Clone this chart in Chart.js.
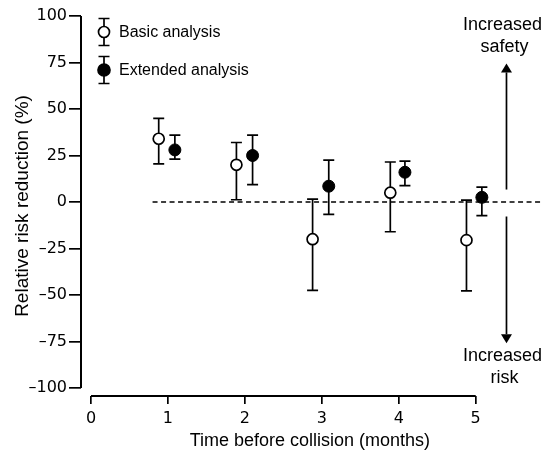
<!DOCTYPE html>
<html><head><meta charset="utf-8">
<script src="https://cdn.jsdelivr.net/npm/chart.js@4/dist/chart.umd.min.js"></script>
<style>html,body{margin:0;padding:0;background:#fff}canvas{display:block}</style>
</head><body>
<canvas id="c" width="546" height="453"></canvas>
<script>
// ---- data ----
const basicX  = [0.88, 1.89, 2.88, 3.89, 4.88];
const basicY  = [34, 20, -20, 5, -20.5];
const basicHi = [45, 32, 1.5, 21.5, 1];
const basicLo = [20.5, 1.2, -47.5, -16, -47.8];

const extX  = [1.09, 2.10, 3.09, 4.08, 5.08];
const extY  = [28, 25, 8.5, 16, 2.5];
const extHi = [36, 36, 22.5, 22, 8];
const extLo = [23, 9.3, -6.6, 8.8, -7.3];

const refLineX = [0.8, 5.85];
const refLineY = [0, 0];

const xTicks = [0, 1, 2, 3, 4, 5];
const yTicks = [-100, -75, -50, -25, 0, 25, 50, 75, 100];
const yTickLabels = ['–100', '–75', '–50', '–25', '0', '25', '50', '75', '100'];

const seriesNames = ['Basic analysis', 'Extended analysis'];
const xTitle = 'Time before collision (months)';
const yTitle = 'Relative risk reduction (%)';
const upLabel = ['Increased', 'safety'];
const downLabel = ['Increased', 'risk'];
const arrowX = 5.40;
const upArrow = [6.7, 74.5];     // from, tip (y values)
const downArrow = [-7.8, -75.9]; // from, tip

const TICK_FONT = '"DejaVu Sans", sans-serif';
const TEXT_FONT = '"Liberation Sans", Arial, sans-serif';

const toPts = (xs, ys) => xs.map((x, i) => ({x: x, y: ys[i]}));

const errorBars = {
  id: 'errorBars',
  beforeDatasetsDraw(chart) {
    const {ctx, scales: {x, y}} = chart;
    ctx.save();
    ctx.strokeStyle = '#000';
    ctx.lineWidth = 1.7;
    chart.data.datasets.forEach(ds => {
      if (!ds.errHi) return;
      ds.data.forEach((p, i) => {
        const px = x.getPixelForValue(p.x);
        const yh = y.getPixelForValue(ds.errHi[i]);
        const yl = y.getPixelForValue(ds.errLo[i]);
        ctx.beginPath();
        ctx.moveTo(px, yh); ctx.lineTo(px, yl);
        ctx.moveTo(px - 5.5, yh); ctx.lineTo(px + 5.5, yh);
        ctx.moveTo(px - 5.5, yl); ctx.lineTo(px + 5.5, yl);
        ctx.stroke();
      });
    });
    ctx.restore();
  }
};

const axesAndNotes = {
  id: 'axesAndNotes',
  beforeDatasetsDraw(chart) {
    const {ctx, chartArea, scales: {x, y}} = chart;
    ctx.save();
    ctx.strokeStyle = '#000';
    ctx.lineWidth = 2;
    // y axis line
    ctx.beginPath();
    ctx.moveTo(chartArea.left, y.getPixelForValue(yTicks[yTicks.length - 1]));
    ctx.lineTo(chartArea.left, y.getPixelForValue(yTicks[0]));
    ctx.stroke();
    // x axis line
    ctx.beginPath();
    ctx.moveTo(x.getPixelForValue(xTicks[0]), chartArea.bottom);
    ctx.lineTo(x.getPixelForValue(xTicks[xTicks.length - 1]), chartArea.bottom);
    ctx.stroke();

    // arrows
    ctx.lineWidth = 1.7;
    const ax = x.getPixelForValue(arrowX);
    const drawArrow = (from, tip) => {
      const y0 = y.getPixelForValue(from), y1 = y.getPixelForValue(tip);
      const dir = y1 < y0 ? -1 : 1;
      const base = y1 - dir * 9;
      ctx.beginPath(); ctx.moveTo(ax, y0); ctx.lineTo(ax, base); ctx.stroke();
      ctx.beginPath();
      ctx.moveTo(ax, y1); ctx.lineTo(ax - 5.5, base); ctx.lineTo(ax + 5.5, base); ctx.closePath();
      ctx.fillStyle = '#000'; ctx.fill();
    };
    drawArrow(upArrow[0], upArrow[1]);
    drawArrow(downArrow[0], downArrow[1]);

    ctx.fillStyle = '#000';
    ctx.font = '18px ' + TEXT_FONT;
    ctx.textAlign = 'center';
    ctx.textBaseline = 'alphabetic';
    const tx = ax - 4;
    ctx.fillText(upLabel[0], tx, 30);
    ctx.fillText(upLabel[1], tx + 2, 51.5);
    ctx.fillText(downLabel[0], tx, 360.5);
    ctx.fillText(downLabel[1], tx + 2, 382.5);

    // legend
    const lx = 104;
    const rows = [{y: 32, fill: '#fff', r: 5.5}, {y: 70, fill: '#000', r: 6}];
    ctx.font = '16px ' + TEXT_FONT;
    ctx.textAlign = 'left';
    ctx.textBaseline = 'middle';
    rows.forEach((row, i) => {
      ctx.beginPath();
      ctx.moveTo(lx, row.y - 13.5); ctx.lineTo(lx, row.y + 13.5);
      ctx.moveTo(lx - 5.5, row.y - 13.5); ctx.lineTo(lx + 5.5, row.y - 13.5);
      ctx.moveTo(lx - 5.5, row.y + 13.5); ctx.lineTo(lx + 5.5, row.y + 13.5);
      ctx.stroke();
      ctx.beginPath();
      ctx.arc(lx, row.y, row.r, 0, Math.PI * 2);
      ctx.fillStyle = row.fill; ctx.fill(); ctx.stroke();
      ctx.fillStyle = '#000';
      ctx.fillText(seriesNames[i], 119, row.y + 1);
    });
    ctx.restore();
  }
};

new Chart(document.getElementById('c'), {
  type: 'scatter',
  data: {
    datasets: [
      {
        type: 'line',
        data: toPts(refLineX, refLineY),
        borderColor: '#000', borderWidth: 1.5, borderDash: [5, 3.5],
        pointRadius: 0, showLine: true, fill: false, clip: false
      },
      {
        label: seriesNames[0],
        data: toPts(basicX, basicY),
        errHi: basicHi, errLo: basicLo,
        pointRadius: 5.5, pointBackgroundColor: '#fff', pointBorderColor: '#000', pointBorderWidth: 1.7
      },
      {
        label: seriesNames[1],
        data: toPts(extX, extY),
        errHi: extHi, errLo: extLo,
        pointRadius: 6, pointBackgroundColor: '#000', pointBorderColor: '#000', pointBorderWidth: 1
      }
    ]
  },
  options: {
    responsive: false,
    animation: false,
    devicePixelRatio: 1,
    layout: {padding: {top: 16, right: 0, bottom: 0, left: 0}},
    plugins: {legend: {display: false}, tooltip: {enabled: false}},
    scales: {
      x: {
        type: 'linear', min: -0.13, max: 5.82,
        afterBuildTicks: s => { s.ticks = xTicks.map(v => ({value: v})); },
        afterFit: s => { s.height = 57; },
        border: {display: false},
        grid: {display: true, drawOnChartArea: false, drawTicks: true, tickLength: 8,
               color: '#000', tickColor: '#000', tickWidth: 1.7, lineWidth: 1.7},
        ticks: {autoSkip: false, maxRotation: 0, padding: 5, color: '#000',
                font: {family: TICK_FONT, size: 16}, callback: v => String(v)},
        title: {display: true, text: xTitle, color: '#000',
                font: {family: TEXT_FONT, size: 18}, padding: {top: 0, bottom: 1.2}}
      },
      y: {
        type: 'linear', min: -104.3, max: 100,
        afterBuildTicks: s => { s.ticks = yTicks.map(v => ({value: v})); },
        afterFit: s => { s.width = 81; },
        border: {display: false},
        grid: {display: true, drawOnChartArea: false, drawTicks: true, tickLength: 12,
               color: '#000', tickColor: '#000', tickWidth: 1.7, lineWidth: 1.7},
        ticks: {padding: 2, color: '#000', font: {family: TICK_FONT, size: 16},
                callback: v => yTickLabels[yTicks.indexOf(v)]},
        title: {display: true, text: yTitle, color: '#000',
                font: {family: TEXT_FONT, size: 19}, padding: {top: 11.6, bottom: 0}}
      }
    }
  },
  plugins: [errorBars, axesAndNotes]
});
</script>
</body></html>
